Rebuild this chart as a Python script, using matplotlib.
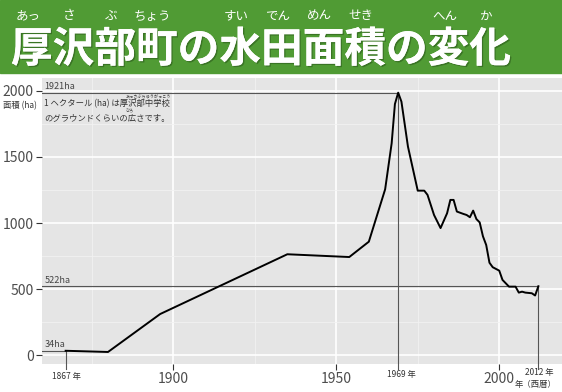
import matplotlib
matplotlib.use('Agg')
import matplotlib.pyplot as plt
import matplotlib.patheffects as pe
from matplotlib.patches import Rectangle

plt.rcParams['font.family'] = ['Noto Sans CJK JP', 'DejaVu Sans']

# Data (year, paddy area in ha)
years = [1867, 1880, 1896, 1935, 1954, 1960, 1965, 1967, 1968, 1969, 1970, 1972,
         1975, 1977, 1978, 1980, 1982, 1984, 1985, 1986, 1987, 1989, 1990, 1991,
         1992, 1993, 1994, 1995, 1996, 1997, 1998, 2000, 2001, 2003, 2005, 2006,
         2007, 2008, 2010, 2011, 2012]
area = [34, 25, 312, 764, 743, 859, 1255, 1603, 1900, 1986, 1918, 1578,
        1245, 1245, 1213, 1061, 962, 1074, 1175, 1175, 1087, 1069, 1061, 1044,
        1094, 1030, 1005, 900, 834, 700, 666, 640, 570, 519, 519, 474,
        481, 474, 469, 452, 522]

title_chars = list('厚沢部町の水田面積の変化')
title_ruby = ['あっ', 'さ', 'ぶ', 'ちょう', '', 'すい', 'でん', 'めん', 'せき', '', 'へん', 'か']

marks = [(1867, 34, '34ha'), (1969, 1986, '1921ha'), (2012, 522, '522ha')]
mark_labels = ['1867 年', '1969 年', '2012 年']

W, H = 562, 392


def fx(x):
    return x / W


def fy(y):
    return 1 - y / H


fig = plt.figure(figsize=(W / 100, H / 100), dpi=100)

# green title banner
fig.patches.append(Rectangle((0, fy(73)), 1, 1 - fy(73), transform=fig.transFigure,
                             color='#509B34', zorder=0))
em = 30 * 100 / 72
x0 = 11
fig.text(fx(x0), fy(50), ''.join(title_chars), fontsize=30, fontweight='bold',
         color='white', va='center', ha='left',
         path_effects=[pe.withSimplePatchShadow(offset=(1, -1), shadow_rgbFace='#2c5a1c', alpha=0.6),
                       pe.Normal()])
for i, r in enumerate(title_ruby):
    if r:
        fig.text(fx(x0 + em * (i + 0.5) - 4), fy(16), r, fontsize=9, color='white',
                 ha='center', va='center')

# plot panel
ax = fig.add_axes([fx(42), fy(364), 1 - fx(42), fy(78) - fy(364)])
ax.set_facecolor('#E5E5E5')
ax.set_xlim(1859.75, 2019.25)
ax.set_ylim(-66, 2097)
ax.set_xticks([1900, 1950, 2000])
ax.set_yticks([0, 500, 1000, 1500, 2000])
ax.set_xticks([1875, 1925, 1975], minor=True)
ax.set_yticks([250, 750, 1250, 1750], minor=True)
ax.grid(which='major', color='white', lw=1.2)
ax.grid(which='minor', color='#F2F2F2', lw=0.6)
ax.set_axisbelow(True)
for s in ax.spines.values():
    s.set_visible(False)
ax.tick_params(which='major', length=4, width=0.8, color='#333333',
               labelcolor='#4D4D4D', labelsize=10, pad=2)
ax.tick_params(which='minor', length=0)

ax.plot(years, area, color='black', lw=1.4, zorder=3)

# reference lines for start, peak and latest values
for (yr, val, lab), tl in zip(marks, mark_labels):
    ax.plot([1859.75, yr], [val, val], color='#555555', lw=0.8, zorder=2)
    ax.plot([yr, yr], [val, -105], color='#555555', lw=0.8, zorder=2, clip_on=False)
    ax.text(1860.5, val + 12, lab, fontsize=6.5, color='#444444', ha='left', va='bottom')

fig.text(fx(66), fy(377), mark_labels[0], fontsize=6, color='#333333', ha='center', va='center')
fig.text(fx(401), fy(374), mark_labels[1], fontsize=6, color='#333333', ha='center', va='center')
fig.text(fx(539), fy(373), mark_labels[2], fontsize=6, color='#333333', ha='center', va='center')
fig.text(fx(515), fy(384), '年（西暦）', fontsize=6, color='#333333', ha='left', va='center')

# axis note
fig.text(fx(3), fy(106), '面積 (ha)', fontsize=6, color='#333333', ha='left', va='center')
fig.text(fx(44), fy(104), '1 ヘクタール (ha) は厚沢部中学校', fontsize=6, color='#333333',
         ha='left', va='center')
fig.text(fx(44), fy(118), 'のグラウンドくらいの広さです。', fontsize=6, color='#333333',
         ha='left', va='center')
fig.text(fx(148), fy(97), 'あっさぶちゅうがっこう', fontsize=3, color='#333333',
         ha='center', va='center')
fig.text(fx(130), fy(111.5), 'ひろ', fontsize=3, color='#333333', ha='center', va='center')

fig.savefig('out.png', dpi=100)
